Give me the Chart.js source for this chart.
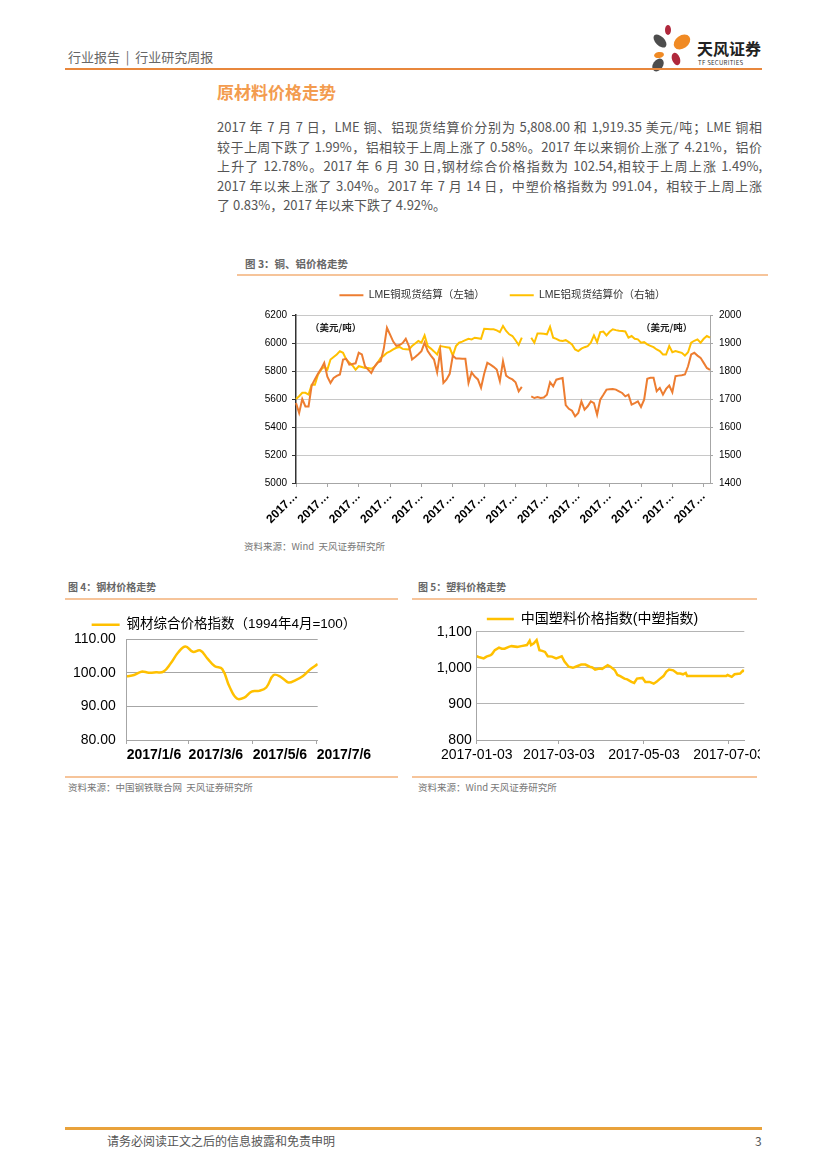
<!DOCTYPE html>
<html lang="zh-CN">
<head>
<meta charset="utf-8">
<title>原材料价格走势</title>
<script src="https://cdn.jsdelivr.net/npm/chart.js@4.4.1/dist/chart.umd.min.js"></script>
<style>
  body { margin: 0; background: #fff; }
  #page { position: relative; width: 827px; height: 1169px; overflow: hidden; background: #fff;
          font-family: 'Noto Sans CJK SC', 'Liberation Sans', sans-serif; }
  .t { position: absolute; white-space: nowrap; }
  .rule { position: absolute; }
  .para { position: absolute; left: 217px; width: 545px; font-size: 13px; line-height: 16px; color: #555;
          text-align: justify; text-align-last: justify; }
  .cap { font-size: 10.5px; font-weight: bold; color: #666; line-height: 13px; }
  .src { font-size: 9.5px; color: #777; line-height: 12px; }
  .unit { font-size: 9.5px; font-weight: bold; color: #222; line-height: 12px; }
  canvas { position: absolute; }
</style>
</head>
<body>
<div id="page">
  <!-- 页眉 -->
  <div class="t" style="left:68px;top:49px;font-size:13px;line-height:16px;color:#666;">行业报告&nbsp;&nbsp;|&nbsp;&nbsp;行业研究周报</div>
  <svg style="position:absolute;left:646px;top:22px;" width="50" height="54" viewBox="0 0 50 54">
    <ellipse cx="22" cy="8" rx="3" ry="5" fill="#B0283C"/>
    <ellipse cx="14" cy="19" rx="8" ry="4.5" fill="#4D4D4D" transform="rotate(45 14 19)"/>
    <ellipse cx="36" cy="20" rx="9" ry="6.5" fill="#F08A24" transform="rotate(-35 36 20)"/>
    <ellipse cx="13" cy="33" rx="5" ry="3" fill="#F08A24" transform="rotate(-10 13 33)"/>
    <ellipse cx="30" cy="37" rx="4" ry="6.5" fill="#B0283C" transform="rotate(-20 30 37)"/>
    <ellipse cx="12" cy="43" rx="7" ry="5" fill="#4D4D4D" transform="rotate(-55 12 43)"/>
  </svg>
  <div class="t" style="left:697px;top:39px;font-size:16px;line-height:18px;font-weight:bold;color:#222;">天风证券</div>
  <div class="t" style="left:698px;top:59px;font-size:6px;line-height:7px;color:#333;letter-spacing:0.3px;">TF SECURITIES</div>
  <div class="rule" style="left:65px;top:68px;width:697px;height:2px;background:#E8873C;"></div>

  <!-- 标题与正文 -->
  <div class="t" style="left:217px;top:82px;font-size:17px;line-height:20px;font-weight:bold;color:#F39C4F;">原材料价格走势</div>
  <div class="para" style="top:119px;">2017 年 7 月 7 日，LME 铜、铝现货结算价分别为 5,808.00 和 1,919.35 美元/吨；LME 铜相</div>
  <div class="para" style="top:138.5px;">较于上周下跌了 1.99%，铝相较于上周上涨了 0.58%。2017 年以来铜价上涨了 4.21%，铝价</div>
  <div class="para" style="top:158px;">上升了 12.78%。2017 年 6 月 30 日,钢材综合价格指数为 102.54,相较于上周上涨 1.49%,</div>
  <div class="para" style="top:177.5px;">2017 年以来上涨了 3.04%。2017 年 7 月 14 日，中塑价格指数为 991.04，相较于上周上涨</div>
  <div class="para" style="top:197px;text-align-last:left;">了 0.83%，2017 年以来下跌了 4.92%。</div>

  <!-- 图3 -->
  <div class="t cap" style="left:245px;top:256.5px;">图 3：铜、铝价格走势</div>
  <div class="rule" style="left:237px;top:274px;width:531px;height:1.5px;background:#F6C49A;"></div>
  <canvas id="cuAl" width="531" height="267" style="left:237px;top:265px;"></canvas>
  <div class="t unit" style="left:310px;top:321px;">（美元/吨）</div>
  <div class="t unit" style="left:641px;top:321px;">（美元/吨）</div>
  <div class="t src" style="left:244px;top:540px;">资料来源：Wind&nbsp;&nbsp;天风证券研究所</div>

  <!-- 图4 -->
  <div class="t cap" style="left:68px;top:580px;font-size:10px;">图 4：钢材价格走势</div>
  <div class="rule" style="left:65px;top:598px;width:333px;height:1.5px;background:#F6C49A;"></div>
  <canvas id="steel" width="318" height="164" style="left:65px;top:608px;"></canvas>
  <div class="rule" style="left:65px;top:776px;width:333px;height:1.5px;background:#F6C49A;"></div>
  <div class="t src" style="left:68px;top:781px;">资料来源：中国钢铁联合网&nbsp;&nbsp;天风证券研究所</div>

  <!-- 图5 -->
  <div class="t cap" style="left:418px;top:580px;font-size:10px;">图 5：塑料价格走势</div>
  <div class="rule" style="left:412px;top:598px;width:345px;height:1.5px;background:#F6C49A;"></div>
  <div style="position:absolute;left:405px;top:602px;width:355px;height:170px;overflow:hidden;">
    <canvas id="plastic" width="375" height="170" style="left:0;top:0;"></canvas>
  </div>
  <div class="rule" style="left:412px;top:776px;width:345px;height:1.5px;background:#F6C49A;"></div>
  <div class="t src" style="left:418px;top:781px;">资料来源：Wind 天风证券研究所</div>

  <!-- 页脚 -->
  <div class="rule" style="left:65px;top:1127px;width:697px;height:3px;background:#E9A23B;"></div>
  <div class="t" style="left:107px;top:1133px;font-size:12px;line-height:16px;color:#555;">请务必阅读正文之后的信息披露和免责申明</div>
  <div class="t" style="left:755px;top:1133px;font-size:12px;line-height:16px;color:#555;">3</div>
</div>

<script>
Chart.defaults.font.family = "'Liberation Sans', 'Noto Sans CJK SC', sans-serif";
Chart.defaults.color = '#000';

// 图3：LME 铜（美元/吨，左轴）、铝（美元/吨，右轴），交易日数据，null 为缺失
const copperPrices = [
  5571, 5500, 5600, 5547, 5547, 5696, 5740, 5780, 5815, 5858,
  5760, 5715, 5750, 5765, 5775, 5882, 5887, 5846, 5850, 5855,
  5930, 5918, 5834, 5810, 5786, 5830, 5860, 5870, 5960, 6109,
  6060, 6010, 5980, 5985, 6000, 6030, 5978, 5882, 5900, 5920,
  5942, 6002, 5942, 5910, 5882, 5790, 5942, 5715, 5740, 5780,
  5910, 5890, 5890, 5888, 5887, 5715, 5790, 5760, 5740, 5680,
  5780, 5858, 5845, 5830, 5810, 5727, 5870, 5767, 5750, 5740,
  5720, 5655, 5686, null, null, 5619, 5607, 5614, 5607, 5610,
  5630, 5720, 5690, 5738, 5745, 5750, 5557, 5530, 5516, 5476,
  5500, 5583, 5524, 5548, 5583, 5571, 5488, 5595, 5630, 5667,
  5670, 5672, 5667, 5655, 5643, 5619, 5631, 5560, 5571, 5583,
  5543, 5595, 5744, 5751, 5751, 5655, 5679, 5631, 5672, 5696,
  5648, 5763, 5767, 5770, 5775, 5834, 5918, 5930, 5910, 5894,
  5858, 5822, 5808
];
const aluminumPrices = [
  1700, 1710, 1722, 1722, 1716, 1751, 1751, 1787, 1805, 1815,
  1805, 1841, 1850, 1859, 1871, 1865, 1841, 1830, 1820, 1805,
  1817, 1814, 1811, 1811, 1808, 1815, 1829, 1847, 1855, 1865,
  1870, 1877, 1883, 1886, 1879, 1878, 1877, 1889, 1898, 1907,
  1901, 1927, 1889, 1880, 1870, 1859, 1889, 1887, 1885, 1883,
  1855, 1889, 1901, 1905, 1910, 1915, 1913, 1919, 1917, 1915,
  1951, 1950, 1949, 1949, 1945, 1939, 1961, 1943, 1931, 1925,
  1910, 1893, 1919, null, null, 1919, 1901, 1934, 1934, 1933,
  1931, 1958, 1919, 1915, 1909, 1907, 1910, 1903, 1895, 1877,
  1871, 1880, 1885, 1889, 1901, 1927, 1903, 1939, 1941, 1927,
  1940, 1949, 1946, 1944, 1943, 1941, 1919, 1925, 1915, 1913,
  1901, 1903, 1895, 1890, 1885, 1877, 1871, 1859, 1859, 1889,
  1867, 1871, 1868, 1865, 1855, 1867, 1901, 1908, 1913, 1901,
  1915, 1925, 1919
];
const cuAlTickLabel = '2017…';

// 图4：钢材综合价格指数（周）
const steelDates = [
  '2017/1/6', '2017/1/13', '2017/1/20', '2017/1/27', '2017/2/3', '2017/2/10', '2017/2/17',
  '2017/2/24', '2017/3/3', '2017/3/10', '2017/3/17', '2017/3/24', '2017/3/31', '2017/4/7',
  '2017/4/14', '2017/4/21', '2017/4/28', '2017/5/5', '2017/5/12', '2017/5/19', '2017/5/26',
  '2017/6/2', '2017/6/9', '2017/6/16', '2017/6/23', '2017/6/30', '2017/7/7'
];
const steelIndex = [
  98.9, 99.3, 100.3, 100.0, 100.1, 100.3, 102.8, 106.0, 107.8, 106.2, 106.6, 104.2, 101.9, 101.1,
  95.8, 92.3, 92.6, 94.4, 94.6, 95.6, 99.3, 98.7, 97.1, 97.8, 99.0, 101.03, 102.54
];
const steelTickLabels = ['2017/1/6', '2017/3/6', '2017/5/6', '2017/7/6'];

// 图5：中国塑料价格指数
const plasticDates = [
  '2017-01-03', '2017-01-05', '2017-01-08', '2017-01-10', '2017-01-13', '2017-01-14', '2017-01-16', '2017-01-19',
  '2017-01-21', '2017-01-23', '2017-01-26', '2017-01-28', '2017-02-01', '2017-02-04', '2017-02-08', '2017-02-10',
  '2017-02-11', '2017-02-13', '2017-02-15', '2017-02-17', '2017-02-19', '2017-02-21', '2017-02-23', '2017-02-26',
  '2017-03-01', '2017-03-03', '2017-03-05', '2017-03-07', '2017-03-10', '2017-03-13', '2017-03-15', '2017-03-19',
  '2017-03-22', '2017-03-25', '2017-03-27', '2017-03-29', '2017-04-01', '2017-04-03', '2017-04-07', '2017-04-09',
  '2017-04-12', '2017-04-14', '2017-04-16', '2017-04-19', '2017-04-21', '2017-04-24', '2017-04-26', '2017-04-28',
  '2017-05-02', '2017-05-04', '2017-05-07', '2017-05-10', '2017-05-12', '2017-05-14', '2017-05-17', '2017-05-19',
  '2017-05-21', '2017-05-24', '2017-05-27', '2017-05-29', '2017-05-31', '2017-06-02', '2017-06-03', '2017-06-07',
  '2017-06-17', '2017-07-01', '2017-07-02', '2017-07-05', '2017-07-07', '2017-07-11', '2017-07-13', '2017-07-14'
];
const plasticIndex = [
  1032, 1029, 1026, 1031, 1035, 1038, 1049, 1056, 1053, 1053, 1058, 1060,
  1058, 1060, 1063, 1075, 1063, 1068, 1077, 1049, 1047, 1044, 1032, 1031,
  1026, 1029, 1032, 1017, 1003, 1000, 1003, 1009, 1009, 1003, 1001, 995,
  998, 997, 1007, 1003, 994, 980, 977, 970, 968, 961, 958, 970,
  972, 961, 961, 956, 961, 968, 977, 989, 995, 993, 984, 984, 982,
  986, 977, 977, 977,
  977, 980, 975, 982, 984, 992, 991.04
];
const plasticTickLabels = ['2017-01-03', '2017-03-03', '2017-05-03', '2017-07-03'];

// 交易日类别（从 2017-01-03 起的工作日）
const tradeDays = [];
(function () {
  const d = new Date(Date.UTC(2017, 0, 3));
  while (tradeDays.length < copperPrices.length) {
    const w = d.getUTCDay();
    if (w !== 0 && w !== 6) tradeDays.push(d.toISOString().slice(0, 10));
    d.setUTCDate(d.getUTCDate() + 1);
  }
})();

function dayOffset(str, base) {
  const p = str.split(/[\/-]/).map(Number);
  const b = base.split(/[\/-]/).map(Number);
  return (Date.UTC(p[0], p[1] - 1, p[2]) - Date.UTC(b[0], b[1] - 1, b[2])) / 86400000;
}

// 固定图例高度，好让绘图区的上沿落在想要的位置
function fixLegendHeight(h) {
  return {
    id: 'fixLegendHeight',
    afterInit(chart) {
      if (!chart.legend) return;
      const fit = chart.legend.fit;
      chart.legend.fit = function () { fit.call(this); this.height = h; };
    }
  };
}

const baseOptions = {
  responsive: false,
  animation: false,
  devicePixelRatio: 1,
  events: []
};

// 图3
new Chart(document.getElementById('cuAl'), {
  type: 'line',
  data: {
    labels: tradeDays,
    datasets: [{
      label: 'LME铜现货结算（左轴）',
      data: copperPrices,
      borderColor: '#ED7D31',
      backgroundColor: '#ED7D31',
      borderWidth: 2,
      pointRadius: 0,
      tension: 0,
      yAxisID: 'y'
    }, {
      label: 'LME铝现货结算价（右轴）',
      data: aluminumPrices,
      borderColor: '#FFC000',
      backgroundColor: '#FFC000',
      borderWidth: 2,
      pointRadius: 0,
      tension: 0,
      yAxisID: 'y1'
    }]
  },
  options: {
    ...baseOptions,
    plugins: {
      legend: {
        labels: { usePointStyle: true, pointStyle: 'line', pointStyleWidth: 24, padding: 25, color: '#333', font: { size: 10.5 } }
      },
      tooltip: { enabled: false }
    },
    scales: {
      x: {
        ticks: { autoSkip: false, minRotation: 45, maxRotation: 45, padding: 2, font: { size: 12, weight: 'bold' }, callback: () => cuAlTickLabel },
        afterBuildTicks: s => { s.ticks = s.ticks.filter(t => t.value % 10 === 0); },
        grid: { drawOnChartArea: false, tickLength: 4, tickColor: '#A6A6A6' },
        border: { color: '#A6A6A6' },
        afterFit: s => { s.height = 49; }
      },
      y: {
        position: 'left',
        min: 5000,
        max: 6200,
        ticks: { stepSize: 200, padding: 5, font: { size: 10 }, callback: v => String(v) },
        grid: { color: '#C8C8C8', tickColor: '#333', tickLength: 4 },
        border: { color: '#333', width: 1.5 },
        afterFit: s => { s.width = 59; }
      },
      y1: {
        position: 'right',
        min: 1400,
        max: 2000,
        ticks: { stepSize: 100, padding: 6, font: { size: 10 }, callback: v => String(v) },
        grid: { drawOnChartArea: false, tickColor: '#A6A6A6', tickLength: 3 },
        border: { color: '#A6A6A6' },
        afterFit: s => { s.width = 58; }
      }
    }
  },
  plugins: [fixLegendHeight(50)]
});

// 图4
new Chart(document.getElementById('steel'), {
  type: 'line',
  data: {
    datasets: [{
      label: '钢材综合价格指数（1994年4月=100）',
      data: steelDates.map((d, i) => ({ x: dayOffset(d, steelDates[0]), y: steelIndex[i] })),
      borderColor: '#FFC000',
      backgroundColor: '#FFC000',
      borderWidth: 2.5,
      pointRadius: 0,
      tension: 0.4
    }]
  },
  options: {
    ...baseOptions,
    plugins: {
      legend: {
        labels: { usePointStyle: true, pointStyle: 'line', pointStyleWidth: 28, padding: 10, color: '#000', font: { size: 13.5 } }
      },
      tooltip: { enabled: false }
    },
    scales: {
      x: {
        type: 'linear',
        min: 0,
        max: dayOffset(steelDates[steelDates.length - 1], steelDates[0]),
        afterBuildTicks: s => { s.ticks = steelTickLabels.map(l => ({ value: dayOffset(l, steelDates[0]) })); },
        ticks: { align: 'start', padding: 3, font: { size: 14, weight: 'bold' }, callback: (v, i) => steelTickLabels[i] },
        grid: { drawOnChartArea: false, tickLength: 4, tickColor: '#A6A6A6' },
        border: { color: '#A6A6A6' },
        // 右侧留白放在轴上，图例仍按整张画布居中
        afterFit: s => { s.height = 32; s.paddingRight = 65.3; }
      },
      y: {
        min: 80,
        max: 110,
        ticks: { stepSize: 10, padding: 11, font: { size: 14 }, callback: v => v.toFixed(2) },
        grid: { color: '#A6A6A6', drawTicks: false },
        border: { color: '#A6A6A6' },
        afterFit: s => { s.width = 61.7; }
      }
    }
  },
  plugins: [fixLegendHeight(31)]
});

// 图5
new Chart(document.getElementById('plastic'), {
  type: 'line',
  data: {
    datasets: [{
      label: '中国塑料价格指数(中塑指数)',
      data: plasticDates.map((d, i) => ({ x: dayOffset(d, plasticDates[0]), y: plasticIndex[i] })),
      borderColor: '#FFC000',
      backgroundColor: '#FFC000',
      borderWidth: 2.5,
      pointRadius: 0,
      tension: 0
    }]
  },
  options: {
    ...baseOptions,
    plugins: {
      legend: {
        labels: { usePointStyle: true, pointStyle: 'line', pointStyleWidth: 27, padding: 10, color: '#000', font: { size: 14 } }
      },
      tooltip: { enabled: false }
    },
    scales: {
      x: {
        type: 'linear',
        min: 0,
        max: dayOffset(plasticDates[plasticDates.length - 1], plasticDates[0]),
        afterBuildTicks: s => { s.ticks = plasticTickLabels.map(l => ({ value: dayOffset(l, plasticDates[0]) })); },
        ticks: { padding: 3, font: { size: 14 }, callback: (v, i) => plasticTickLabels[i] },
        grid: { drawOnChartArea: false, tickLength: 4, tickColor: '#A6A6A6' },
        border: { color: '#A6A6A6' },
        afterFit: s => { s.height = 32; s.paddingRight = 35.7; }
      },
      y: {
        min: 800,
        max: 1100,
        ticks: { stepSize: 100, padding: 5, font: { size: 14 }, callback: v => v.toLocaleString('en-US') },
        grid: { color: '#B4B4B4', drawTicks: false },
        border: { color: '#A6A6A6' },
        afterFit: s => { s.width = 71.7; }
      }
    }
  },
  plugins: [fixLegendHeight(29.7)]
});
</script>
</body>
</html>
